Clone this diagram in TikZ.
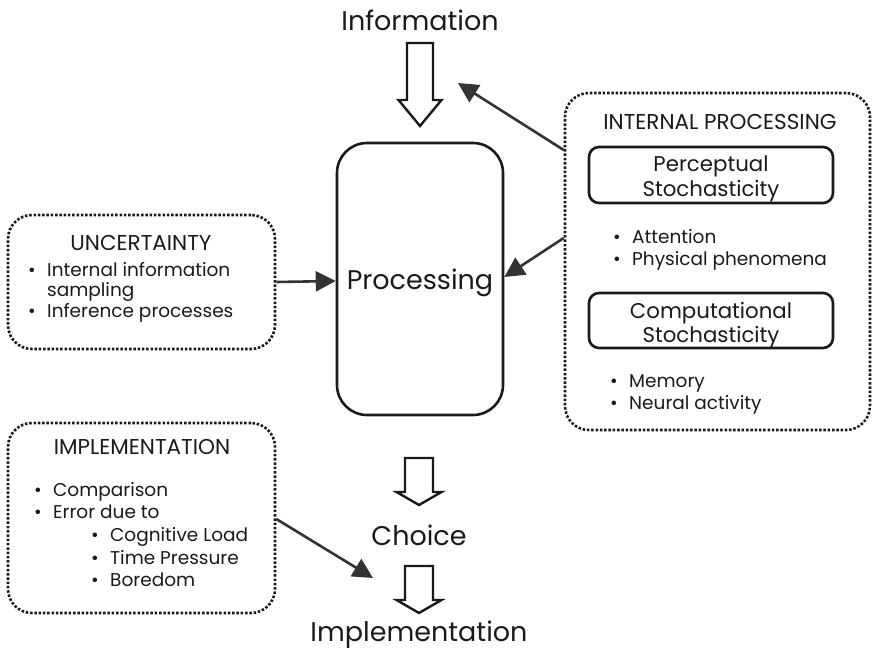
\documentclass[tikz,border=0pt]{standalone}
\usepackage{fontspec}
\setmainfont{Poppins}
\usetikzlibrary{arrows.meta}
\definecolor{ink}{HTML}{1A1A1A}
\definecolor{conn}{HTML}{333333}
\tikzset{
  big/.style={font=\fontsize{27}{30}\selectfont, text=ink, inner sep=0pt, yshift=-2pt},
  body/.style={font=\fontsize{18.5}{21}\selectfont, text=ink, inner sep=0pt, anchor=mid west, yshift=-4.5pt},
  title/.style={font=\fontsize{21.5}{24}\selectfont, text=ink, inner sep=0pt, anchor=mid, yshift=-4.5pt},
  boxtext/.style={font=\fontsize{21.3}{24}\selectfont, text=ink, inner sep=0pt, anchor=mid, yshift=-4.5pt},
  dotbox/.style={draw=ink, line width=2.6pt, dash pattern=on 2.5pt off 1.8pt, line cap=butt, rounded corners=24pt, inner sep=0pt},
  solidbox/.style={draw=ink, line width=2.6pt, inner sep=0pt},
  conn/.style={draw=conn, line width=2.6pt, -{Triangle[length=20pt,width=20pt]}},
  hollow/.style={draw=ink, line width=2.4pt, line join=miter, fill=white},
}
\newcommand\hollowdown[5]{% x, shaft top, head base, tip, shaft half width
  \draw[hollow] (#1-#5,#2) -- (#1+#5,#2) -- (#1+#5,#3) -- (#1+#5+8.5,#3) -- (#1,#4)
     -- (#1-#5-8.5,#3) -- (#1-#5,#3) -- cycle;}
\begin{document}
\begin{tikzpicture}[x=1pt,y=-1pt]
\useasboundingbox (0,0) rectangle (873,652);

% main flow
\node[big] (info) at (420,18) {Information};
\hollowdown{420}{43}{100}{126}{13}
\node[solidbox, rounded corners=30pt, minimum width=166pt, minimum height=272pt] (proc) at (420,279) {};
\node[big] (proctext) at (420,281) {Processing};
\hollowdown{419}{458}{492}{505}{14}
\node[big] (choice) at (419,533) {Choice};
\hollowdown{419}{566}{600}{613}{14}
\node[big] (impl) at (419,633) {Implementation};

% uncertainty
\node[dotbox, minimum width=267pt, minimum height=134pt] (unc) at (141.5,282) {};
\node[title] (unct) at (141,243) {UNCERTAINTY};
\node[body] (ub1) at (28,269) {•};
\node[body] (u1) at (47,269) {Internal information};
\node[body] (u1b) at (47,289) {sampling};
\node[body] (ub2) at (28,310) {•};
\node[body] (u2) at (47,310) {Inference processes};

% implementation
\node[dotbox, minimum width=267pt, minimum height=190pt] (imp) at (141.5,518) {};
\node[title] (impt) at (142,447) {IMPLEMENTATION};
\node[body] (ib1) at (34,489) {•};
\node[body] (i1) at (53,489) {Comparison};
\node[body] (ib2) at (34,511) {•};
\node[body] (i2) at (53,511) {Error due to};
\node[body] (ib3) at (91,534) {•};
\node[body] (i3) at (110,534) {Cognitive Load};
\node[body] (ib4) at (91,557) {•};
\node[body] (i4) at (110,557) {Time Pressure};
\node[body] (ib5) at (91,579) {•};
\node[body] (i5) at (110,579) {Boredom};

% internal processing
\node[dotbox, minimum width=305pt, minimum height=337pt] (int) at (717.5,261.5) {};
\node[title] (intt) at (720,122) {INTERNAL PROCESSING};
\node[solidbox, rounded corners=10pt, minimum width=244pt, minimum height=56pt] (perc) at (711,175) {};
\node[boxtext] (perc1) at (711,164) {Perceptual};
\node[boxtext] (perc2) at (711,189) {Stochasticity};
\node[body] (pb1) at (613,236) {•};
\node[body] (p1) at (632,236) {Attention};
\node[body] (pb2) at (613,258) {•};
\node[body] (p2) at (632,258) {Physical phenomena};
\node[solidbox, rounded corners=10pt, minimum width=244pt, minimum height=55pt] (comp) at (711,320.5) {};
\node[boxtext] (comp1) at (711,311) {Computational};
\node[boxtext] (comp2) at (711,335) {Stochasticity};
\node[body] (mb1) at (610,380) {•};
\node[body] (m1) at (629,380) {Memory};
\node[body] (mb2) at (610,402) {•};
\node[body] (m2) at (629,402) {Neural activity};

% connectors
\coordinate (infoin) at (458,83);
\draw[conn] (int.west |- 0,150) -- (infoin);
\draw[conn] (int.west |- 0,238) -- (proc.east |- 0,277);
\draw[conn] (unc.east |- 0,282) -- (proc.west |- 0,281);
\coordinate (implin) at (373,578);
\draw[conn] (imp.east |- 0,519) -- (implin);
\end{tikzpicture}
\end{document}
